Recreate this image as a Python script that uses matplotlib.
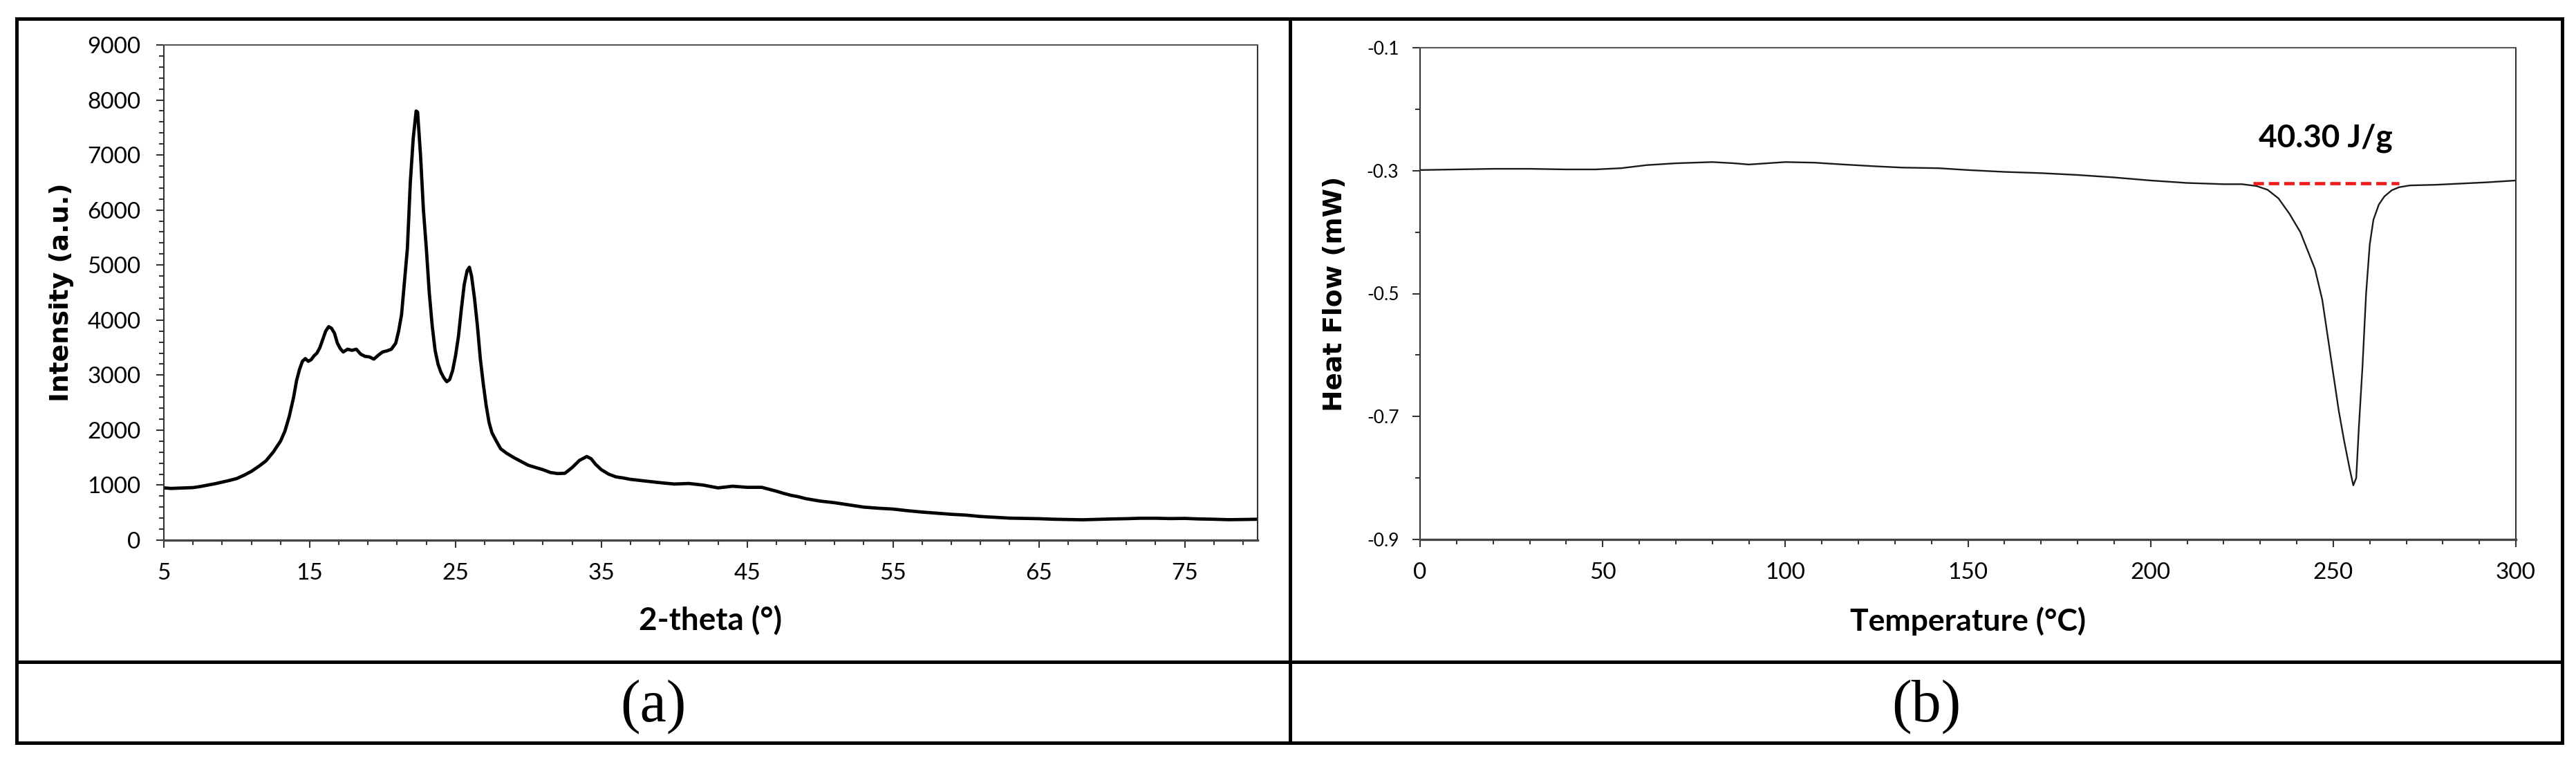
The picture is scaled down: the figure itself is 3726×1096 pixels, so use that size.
import matplotlib
matplotlib.use("Agg")
import matplotlib.pyplot as plt
from matplotlib.patches import Rectangle
from matplotlib.lines import Line2D
from matplotlib.ticker import FixedLocator, FormatStrFormatter

plt.rcParams["font.family"] = ["Lato", "DejaVu Sans"]
plt.rcParams["axes.unicode_minus"] = False

# (a) XRD pattern
two_theta = [
    5.0, 5.5, 6.0, 6.5, 7.0, 7.5, 8.0, 8.5, 9.0, 9.5, 10.0, 10.5, 11.0, 11.5,
    12.0, 12.5, 13.0, 13.3, 13.6, 13.9, 14.1, 14.3, 14.5, 14.7, 14.9, 15.1,
    15.3, 15.5, 15.7, 15.9, 16.1, 16.3, 16.5, 16.7, 16.9, 17.1, 17.3, 17.6,
    17.9, 18.2, 18.5, 18.8, 19.1, 19.4, 19.7, 20.0, 20.3, 20.6, 20.9, 21.1,
    21.3, 21.5, 21.7, 21.9, 22.1, 22.3, 22.4, 22.6, 22.8, 23.0, 23.2, 23.4,
    23.6, 23.8, 24.0, 24.2, 24.4, 24.6, 24.8, 25.0, 25.2, 25.4, 25.6, 25.8,
    25.95, 26.1, 26.3, 26.5, 26.7, 26.9, 27.1, 27.3, 27.5, 27.8, 28.1, 28.5,
    29.0, 29.5, 30.0, 30.5, 31.0, 31.5, 32.0, 32.5, 33.0, 33.5, 34.0, 34.3,
    34.6, 35.0, 35.5, 36.0, 36.5, 37.0, 38.0, 39.0, 40.0, 41.0, 42.0, 43.0,
    44.0, 45.0, 46.0, 46.5, 47.0, 47.5, 48.0, 48.5, 49.0, 50.0, 51.0, 52.0,
    53.0, 54.0, 55.0, 56.0, 57.0, 58.0, 59.0, 60.0, 61.0, 62.0, 63.0, 64.0,
    65.0, 66.0, 67.0, 68.0, 69.0, 70.0, 71.0, 72.0, 73.0, 74.0, 75.0, 76.0,
    77.0, 78.0, 79.0, 80.0,
]
intensity = [
    950, 940, 945, 950, 955, 975, 1000, 1025, 1055, 1085, 1120, 1180, 1250, 1340,
    1440, 1600, 1800, 1980, 2250, 2600, 2900, 3100, 3250, 3300, 3250, 3280,
    3350, 3400, 3500, 3650, 3800, 3880, 3850, 3760, 3580, 3480, 3420, 3470,
    3450, 3470, 3380, 3340, 3330, 3290, 3360, 3420, 3440, 3470, 3580, 3800,
    4100, 4700, 5300, 6500, 7300, 7800, 7780, 7000, 6000, 5300, 4500, 3900,
    3450, 3200, 3050, 2950, 2880, 2920, 3080, 3350, 3700, 4200, 4650, 4900,
    4960, 4800, 4400, 3900, 3300, 2850, 2450, 2140, 1950, 1800, 1660, 1580,
    1500, 1430, 1360, 1320, 1280, 1230, 1210, 1215, 1320, 1450, 1520, 1480,
    1380, 1280, 1200, 1150, 1130, 1105, 1075, 1045, 1020, 1030, 1000, 950,
    980, 960, 960, 925, 890, 850, 815, 790, 755, 710, 680, 640,
    600, 580, 565, 535, 510, 490, 470, 455, 430, 415, 400, 395,
    390, 380, 375, 370, 378, 385, 390, 398, 398, 392, 395, 385,
    380, 372, 375, 380,
]

# (b) DSC curve
temperature = [
    0, 10, 20, 30, 40, 48, 55, 62, 70, 80, 86, 90, 95, 100, 108, 116, 125,
    132, 142, 150, 160, 170, 180, 190, 200, 210, 220, 225, 229, 232, 235, 238,
    241, 243, 245, 247, 248.5, 250, 251.5, 253, 254.5, 255.5, 256.3, 257, 258,
    259, 260, 261, 262.5, 264, 266, 268, 271, 278, 285, 292, 300,
]
heat_flow = [
    -0.299, -0.298, -0.297, -0.297, -0.298, -0.298, -0.296, -0.291, -0.288,
    -0.286, -0.288, -0.290, -0.288, -0.286, -0.287, -0.290, -0.293, -0.295,
    -0.296, -0.299, -0.302, -0.304, -0.307, -0.311, -0.316, -0.320, -0.322,
    -0.322, -0.325, -0.331, -0.345, -0.370, -0.400, -0.430, -0.460, -0.510,
    -0.570, -0.630, -0.690, -0.740, -0.785, -0.812, -0.800, -0.720, -0.620,
    -0.500, -0.420, -0.380, -0.355, -0.342, -0.332, -0.327, -0.324, -0.323,
    -0.321, -0.319, -0.316,
]

# melting peak baseline and its enthalpy
baseline_T = [228, 268]
baseline_hf = [-0.3205, -0.3205]
enthalpy_text = "40.30 J/g"
enthalpy_pos = (248, -0.247)

xrd_major = [5, 15, 25, 35, 45, 55, 65, 75]
dsc_y_major = [-0.9, -0.7, -0.5, -0.3, -0.1]
dsc_y_minor = [-0.8, -0.6, -0.4, -0.2]
panel_labels = ["(a)", "(b)"]

W, H = 3726, 1096
fig = plt.figure(figsize=(W / 100, H / 100), dpi=100)


def box(x0, y0, x1, y1):
    # pixel box (top-left origin) -> figure fraction
    return [x0 / W, 1 - y1 / H, (x1 - x0) / W, (y1 - y0) / H]


ax1 = fig.add_axes(box(237, 65, 1819, 781))
ax2 = fig.add_axes(box(2054, 69, 3639, 780))

for ax in (ax1, ax2):
    for side in ("left", "right", "top"):
        ax.spines[side].set_color("#333333")
        ax.spines[side].set_linewidth(1.5)
    ax.spines["top"].set_color("#555555")
    ax.spines["bottom"].set_color("#444444")
    ax.spines["bottom"].set_linewidth(2.4)
    ax.tick_params(which="both", direction="out", color="#333333", width=1.5,
                   top=False, right=False)
    ax.tick_params(which="major", length=8)
    ax.tick_params(which="minor", length=5)

# ---- (a) XRD
ax1.plot(two_theta, intensity, color="black", lw=3.4)
ax1.set_xlim(5, 80)
ax1.set_ylim(0, 9000)
ax1.xaxis.set_major_locator(FixedLocator(xrd_major))
ax1.xaxis.set_minor_locator(FixedLocator([v for v in range(5, 81, 2) if v not in xrd_major]))
ax1.yaxis.set_major_locator(FixedLocator(range(0, 9001, 1000)))
ax1.yaxis.set_minor_locator(FixedLocator(range(0, 9001, 200)))
ax1.tick_params(axis="x", labelsize=24, pad=16)
ax1.tick_params(axis="y", labelsize=24, pad=16)
ax1.set_xlabel("2-theta (°)", fontsize=33, fontweight="bold", va="center")
ax1.xaxis.set_label_coords(0.5, -0.162)
ax1.set_ylabel("Intensity (a.u.)", fontsize=27, fontweight="bold",
               family="DejaVu Sans", va="center")
ax1.yaxis.set_label_coords(-0.0936, 0.5)

# ---- (b) DSC
ax2.plot(temperature, heat_flow, color="#1a1a1a", lw=1.7)
ax2.plot(baseline_T, baseline_hf, color="#ee1c1c", lw=3.4,
         linestyle=(0, (3.2, 1.5)))
ax2.text(enthalpy_pos[0], enthalpy_pos[1], enthalpy_text, fontsize=33,
         fontweight="bold", ha="center", va="center")
ax2.set_xlim(0, 300)
ax2.set_ylim(-0.9, -0.1)
ax2.xaxis.set_major_locator(FixedLocator(range(0, 301, 50)))
ax2.xaxis.set_minor_locator(FixedLocator(range(0, 301, 10)))
ax2.yaxis.set_major_locator(FixedLocator(dsc_y_major))
ax2.yaxis.set_minor_locator(FixedLocator(dsc_y_minor))
ax2.yaxis.set_major_formatter(FormatStrFormatter("%.1f"))
ax2.tick_params(axis="x", labelsize=24, pad=16)
ax2.tick_params(axis="y", labelsize=19, pad=14)
ax2.set_xlabel("Temperature (°C)", fontsize=32, fontweight="bold", va="center")
ax2.xaxis.set_label_coords(0.5, -0.166)
ax2.set_ylabel("Heat Flow (mW)", fontsize=27, fontweight="bold",
               family="DejaVu Sans", va="center")
ax2.yaxis.set_label_coords(-0.0776, 0.5)

# ---- table frame round the two panels
lw_frame = 3.6
fig.add_artist(Rectangle((24 / W, 1 - 1074 / H), (3706 - 24) / W, (1074 - 27) / H,
                         fill=False, ec="black", lw=lw_frame, transform=fig.transFigure))
fig.add_artist(Line2D([1866 / W, 1866 / W], [1 - 27 / H, 1 - 1074 / H],
                      color="black", lw=lw_frame, transform=fig.transFigure))
fig.add_artist(Line2D([24 / W, 3706 / W], [1 - 957 / H, 1 - 957 / H],
                      color="black", lw=lw_frame, transform=fig.transFigure))

for label, cx in zip(panel_labels, (945, 2786)):
    fig.text(cx / W, 1 - 1022 / H, label, fontsize=62, family="Liberation Serif",
             ha="center", va="center")

fig.savefig("out.png", dpi=100)
